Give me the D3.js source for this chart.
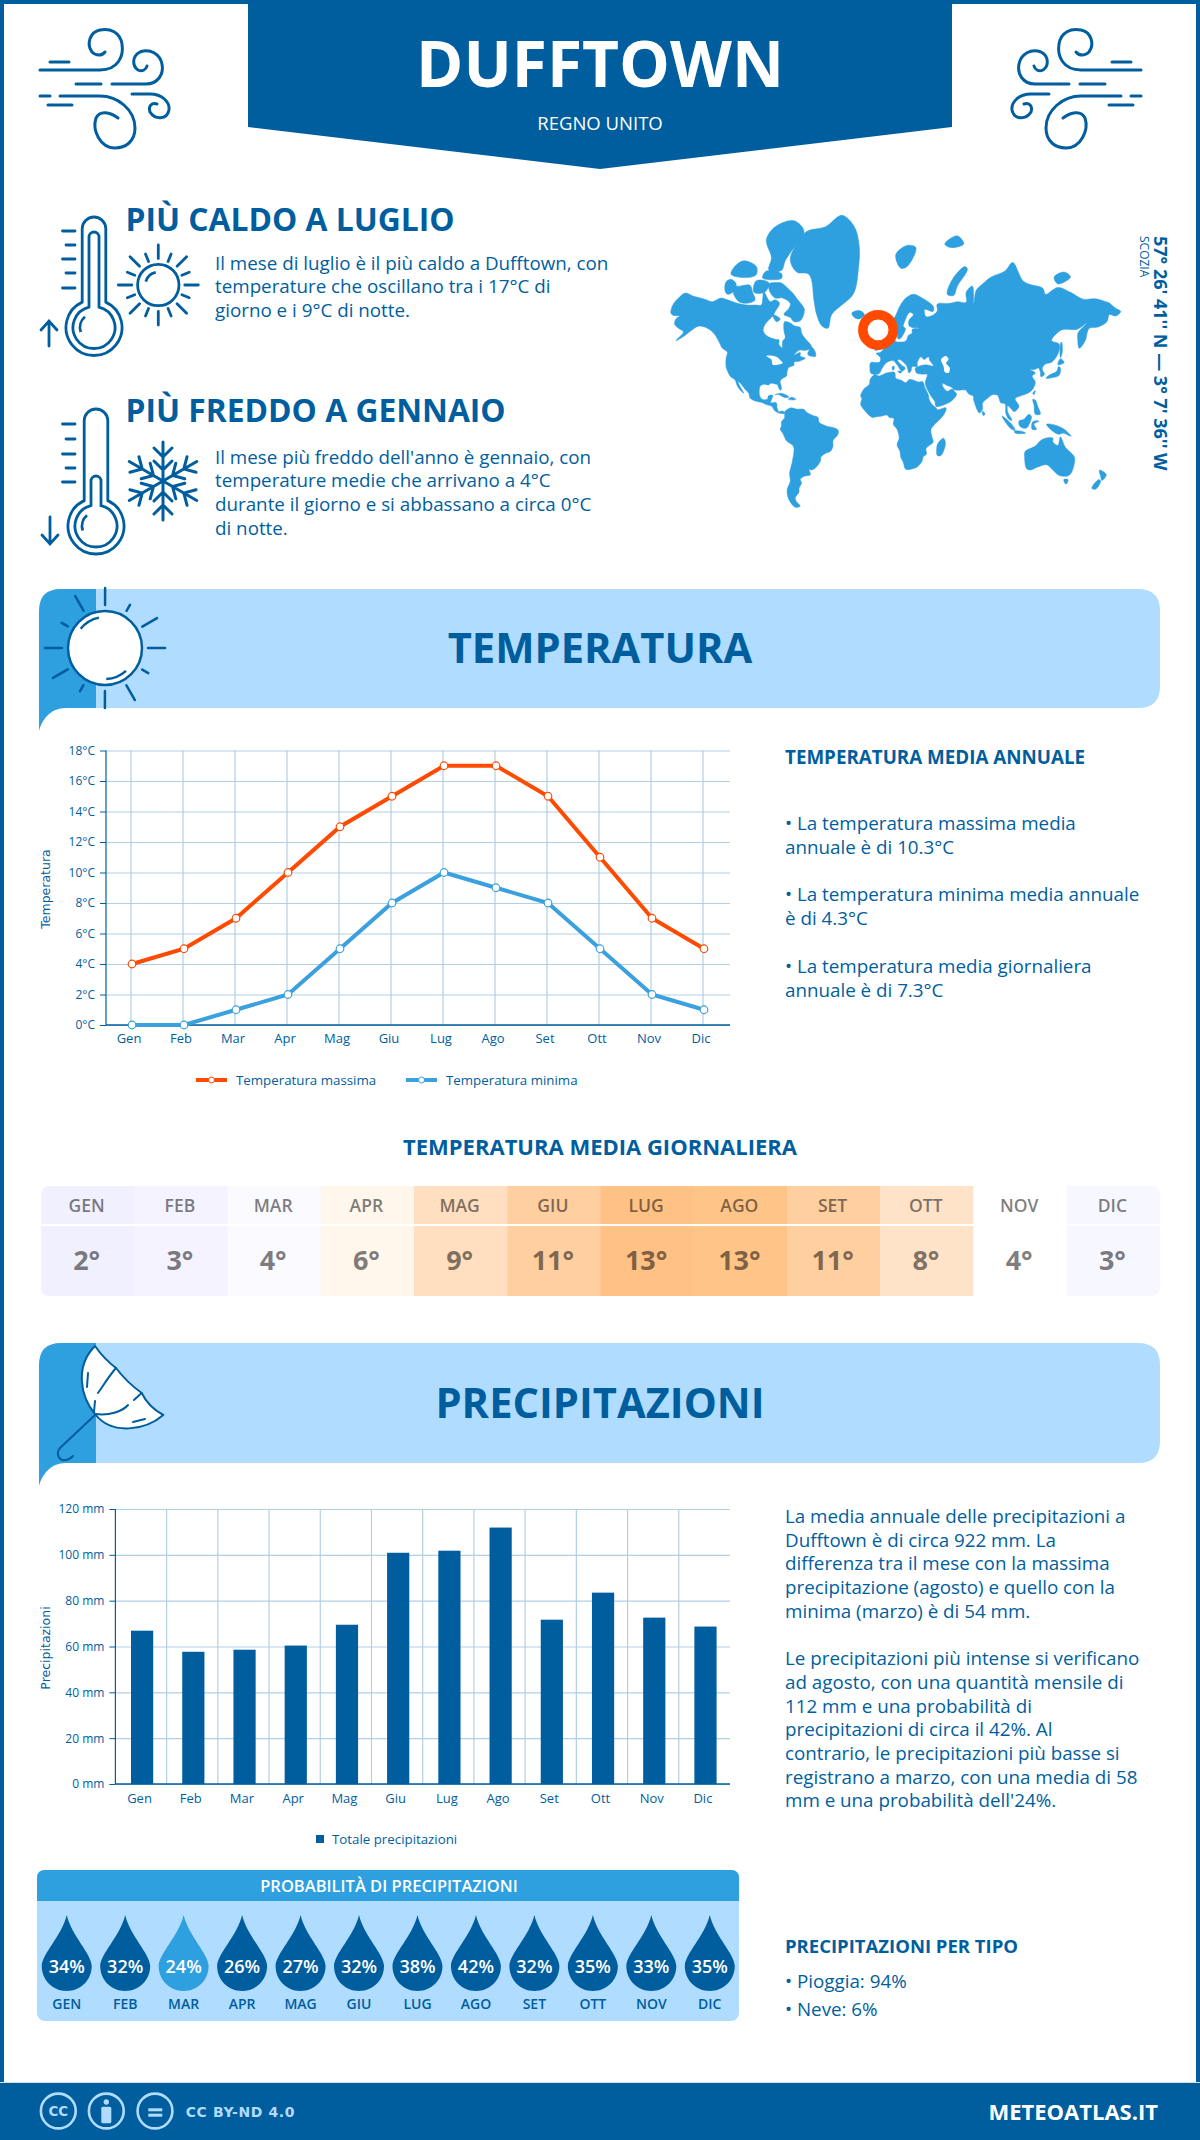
<!DOCTYPE html>
<html>
<head>
<meta charset="utf-8">
<script src="https://cdn.jsdelivr.net/npm/d3@7"></script>
<style>
  html, body { margin: 0; padding: 0; background: #fff; }
  svg { display: block; }
  text { font-family: "Open Sans", sans-serif; }
</style>
</head>
<body>
<div id="chart"></div>
<script>
const months = ["Gen", "Feb", "Mar", "Apr", "Mag", "Giu", "Lug", "Ago", "Set", "Ott", "Nov", "Dic"];
const tempMax = [4, 5, 7, 10, 13, 15, 17, 17, 15, 11, 7, 5];
const tempMin = [0, 0, 1, 2, 5, 8, 10, 9, 8, 5, 2, 1];
const tempTicks = [0, 2, 4, 6, 8, 10, 12, 14, 16, 18];
const tempAvg = [2, 3, 4, 6, 9, 11, 13, 13, 11, 8, 4, 3];
const tempAvgColors = ["#f1f0ff", "#f4f3ff", "#fbfaff", "#fff6ec", "#ffdfbf", "#ffcfa0", "#ffc184", "#ffc488", "#ffcfa0", "#ffe3c8", "#ffffff", "#f7f7ff"];
const rainTotal = [66.9, 57.7, 58.6, 60.4, 69.5, 100.9, 101.8, 111.9, 71.7, 83.5, 72.6, 68.7];
const rainTicks = [0, 20, 40, 60, 80, 100, 120];
const rainProb = [34, 32, 24, 26, 27, 32, 38, 42, 32, 35, 33, 35];

const hotText = ["Il mese di luglio è il più caldo a Dufftown, con", "temperature che oscillano tra i 17°C di", "giorno e i 9°C di notte."];
const coldText = ["Il mese più freddo dell'anno è gennaio, con", "temperature medie che arrivano a 4°C", "durante il giorno e si abbassano a circa 0°C", "di notte."];
const tempNotes = [
  ["• La temperatura massima media", "annuale è di 10.3°C"],
  ["• La temperatura minima media annuale", "è di 4.3°C"],
  ["• La temperatura media giornaliera", "annuale è di 7.3°C"]
];
const rainNotes = [
  ["La media annuale delle precipitazioni a", "Dufftown è di circa 922 mm. La", "differenza tra il mese con la massima", "precipitazione (agosto) e quello con la", "minima (marzo) è di 54 mm."],
  ["Le precipitazioni più intense si verificano", "ad agosto, con una quantità mensile di", "112 mm e una probabilità di", "precipitazioni di circa il 42%. Al", "contrario, le precipitazioni più basse si", "registrano a marzo, con una media di 58", "mm e una probabilità dell'24%."]
];
const rainTypes = ["• Pioggia: 94%", "• Neve: 6%"];

// land outlines, [lon, lat]
const land = [
  [[-168,65.5],[-166,68.3],[-161,70.3],[-156.5,71.3],[-150,70.5],[-141,69.7],[-135,69],[-128,70],[-123,69.5],[-115,68.5],[-108,68],[-100,68],[-96,68],[-94,71.5],[-89,69],[-85,69.5],[-81.5,68.5],[-85,66],[-87,64.5],[-93,61.5],[-94.5,59],[-92,57],[-85,55.3],[-82,55],[-82,52.9],[-79.5,51.3],[-79,54.5],[-77,56],[-78,59],[-77.5,62.5],[-73,62],[-70,61],[-65,60.3],[-64,58],[-61,55.5],[-57,53],[-56,51.5],[-60,50],[-66,50],[-70,47.5],[-65,48.8],[-65,47],[-61,45.8],[-66,44],[-70,43.5],[-70,41.7],[-74,40.5],[-75.5,38],[-76,35],[-79,33.5],[-81,31.5],[-80,27],[-80.5,25.2],[-82,26.5],[-83,29],[-85,29.7],[-89,30],[-90,29],[-94,29.5],[-97,28],[-97.7,24],[-97.5,22],[-96,19],[-94,18.2],[-91,18.7],[-90.5,21],[-87,21.5],[-88,18],[-88.7,16],[-84,15.8],[-83.5,12],[-82,9],[-79.5,9.5],[-77.5,8.5],[-78,7.5],[-80,7.5],[-83,8.3],[-85.7,10],[-87.5,13],[-92,14.5],[-95,16],[-100,17],[-105,19.5],[-106,23],[-109,26],[-112.5,30],[-114.7,31.7],[-113,28],[-110,23],[-112,24.5],[-115,28],[-117,32.5],[-120.5,34.5],[-122.5,37.5],[-124,40.5],[-124,46],[-123,49],[-127,51],[-130,54.5],[-134,58],[-139,60],[-146,60.8],[-152,59],[-158,56.5],[-164,54.7],[-158,58.5],[-162,60],[-165,61.5],[-164,63.5],[-161,64.5],[-166,64.7]],
  [[-73,78.2],[-68,80.5],[-60,82],[-45,82.5],[-32,83.6],[-22,82.5],[-18,80],[-19,76],[-21,72.5],[-24,70.5],[-32,68],[-40,65],[-43,60],[-48,61],[-52,65],[-54,69],[-58,75.5],[-68,76]],
  [[-90,73.5],[-85,73.8],[-80,73.7],[-76,72.8],[-71,71.3],[-67,69.5],[-62,67],[-62,65.5],[-65,62.8],[-70,62.5],[-73,64],[-78,65],[-74,67],[-73,68.5],[-79,70],[-85,70],[-89,71.5]],
  [[-118,71],[-113,68.8],[-105,68.7],[-101,69.5],[-103,71.5],[-105,73.2],[-113,73],[-118,72.8]],
  [[-125,72],[-123,71],[-118,71.8],[-116,73.5],[-120,74.5],[-124,74]],
  [[-90,76.4],[-80,76.3],[-77,78],[-72,79.5],[-62,82],[-70,83.1],[-85,82.5],[-92,81],[-88,78.5]],
  [[-95,74.8],[-80,74.7],[-80,75.7],[-92,76.2]],
  [[-120,75.5],[-106,74.9],[-100,75.5],[-100,77],[-110,78],[-118,76.8]],
  [[-102,71.5],[-93,71.6],[-90,73.8],[-100,74.2]],
  [[-59,47.7],[-53,46.7],[-53,49],[-56,51.5]],
  [[-87,65],[-81,63.5],[-84,62.5]],
  [[-85,22],[-80,23],[-74,20.2],[-77.5,19.9],[-82,22]],
  [[-74.4,18.5],[-72,20],[-68.5,18.5],[-71,18]],
  [[-77.5,8.5],[-75,11],[-72,12],[-68,11],[-62,10.7],[-60,8.5],[-55,6],[-51,4.5],[-50,0.5],[-44,-2.5],[-39,-3.5],[-35,-5.5],[-35,-9],[-39,-14],[-39,-18],[-41,-22],[-45,-23.5],[-48.5,-26],[-49,-29],[-53,-33.7],[-56,-35],[-58,-34.5],[-57,-38],[-62,-39],[-65,-41],[-64,-43],[-66,-46],[-66,-48],[-69,-51],[-68,-53],[-65,-55],[-69,-55.5],[-74,-52],[-75.5,-47],[-73,-42],[-73.5,-37],[-71.5,-30],[-70,-20],[-71,-17.5],[-76,-14],[-79,-8],[-81,-5],[-80,-2.5],[-80,1],[-77.5,4],[-77.5,7]],
  [[-6,35.8],[-2,35],[3,36.8],[10,37.3],[11,33.5],[15,32.3],[19,30.5],[22,32.8],[29,31],[32.5,31.2],[34,27.5],[37,21.5],[37.5,18.5],[39.5,15],[43,12],[44,10.5],[51,12],[50,8],[47,4],[41.5,-1.5],[39,-5],[39.5,-10],[40.7,-15],[35,-20],[35.5,-24],[32.8,-26],[32,-29],[28,-33],[25,-34],[20,-34.8],[18.3,-34],[17,-30],[15,-26.5],[14.3,-22],[12,-17],[13.7,-12],[13,-8],[12,-5],[9,-1],[9.5,3.5],[6,4.3],[4,6.3],[-1,5.3],[-4.5,5],[-7.5,4.4],[-11,6.8],[-13.5,9.5],[-17,14.7],[-16,19],[-17,21],[-14.5,26],[-10,29.5],[-9.5,32.5]],
  [[-9,37],[-9.5,39],[-9,43.2],[-2,43.5],[-1.2,46],[-4.5,48.4],[-1.5,48.8],[2,51],[4,52],[7,53.5],[8.5,54],[8.2,57],[10.5,57.7],[10.5,54.5],[14,54],[19,54.5],[21,57],[24,58],[24,59.5],[30,60],[25,60.2],[21.5,61],[21.5,63],[25,65],[22,65.7],[18,62.5],[17,60.8],[18.7,59.8],[16.5,57],[14.3,55.5],[12.8,55.5],[11.5,58],[8.5,58],[5.5,59],[5,62],[10,64],[14,67.5],[19,70],[25,71],[31,70.2],[41,67.5],[40.5,66],[34,66.7],[35,64.3],[40,64.7],[44,66.2],[44,68.3],[54,68.5],[60,69],[67,68.8],[67,71.5],[72,73],[73,68.5],[75,72],[80,73.5],[87,75],[98,76.2],[104,77.7],[113,74],[128,72.5],[130,71],[140,72.7],[150,71.5],[160,69.7],[170,69.8],[178,69],[180,68.8],[186,67],[190,66],[186,64.5],[181,65],[179,62.5],[172,60.5],[165,60],[163,57.5],[162,55],[157,51],[155.7,56],[156,58],[163,62],[155,59.5],[143,59.3],[135,54.7],[141,53],[140,48],[135,43.5],[130,42.5],[127.5,39.5],[129.3,36],[126.5,34.5],[126,37.5],[124.5,40],[121,39],[118,39],[122,37],[119.5,35],[122,31],[120,26],[116,23],[110,21],[106,19],[109,13],[105,9],[103,11],[100,13.5],[100,9],[103.5,2],[101,3],[98.5,8],[98,15],[94.5,16],[92,21.5],[88,22],[85,20],[80,15.5],[80,11],[77.5,8],[73,18],[72.5,21],[69,22.5],[66.5,25.3],[61,25.2],[57,25.7],[56,27],[51,29],[48,30],[49,27],[52,24.5],[56,26],[58.5,23.5],[59.5,22.5],[55,17],[45,13],[43,13],[42,17],[39,21],[35,28],[34.5,31],[36,36],[32,36.2],[27.5,37],[26.5,40],[29,41],[35,42],[41,41.3],[38,44.5],[37,46.5],[33.5,45],[31,46.5],[28,43],[28,41],[24,40.8],[23,38],[21.5,37],[19.5,41.5],[14,45],[12.5,44.5],[16,41.5],[18.5,40],[16,38],[12,42],[8.8,44.4],[3.5,43.2],[0,39.7],[-2,36.8],[-5.5,36]],
  [[-5.5,50],[1,51.2],[1.5,52.7],[-2,55.8],[-2,57.6],[-5,58.6],[-6,56],[-3,54],[-5,52]],
  [[-10,52],[-6,52],[-6,55],[-9,54.5]],
  [[-24,65.5],[-18,66.3],[-14,65],[-18,63.5],[-22,64]],
  [[11,79],[20,80.3],[27,80],[20,77],[15,76.7]],
  [[52,71],[57,70.7],[60,73],[68,76.5],[66,77],[56,74.5]],
  [[50,80.5],[60,81.5],[65,80.5],[55,80]],
  [[137,75],[145,76],[150,75],[140,73.5]],
  [[130.5,33.5],[136,34],[141,35.5],[142,40],[140.5,41],[139,38],[133,35.5]],
  [[140,42],[145,43.3],[142,45.5]],
  [[142,46],[143.5,49],[143,54],[142,53]],
  [[120,23],[121,22],[122,25]],
  [[120,18.5],[122,18],[124,13],[126,7],[122,7],[121,14]],
  [[109,1.5],[113,3],[117,7],[119,5],[117.5,0],[115,-4],[110,-3]],
  [[95.5,5.5],[98,4],[104,-2],[106,-6],[102,-4]],
  [[105.5,-6.5],[111,-6.5],[114.5,-8],[106,-8]],
  [[119.5,-5],[120,1],[125,1.5],[121,-1],[123,-5]],
  [[131,-1],[138,-1.7],[145,-5],[150.5,-10.5],[144,-8],[141,-9],[138,-8],[133,-4]],
  [[114,-22],[122,-18],[126,-14],[130,-12],[136,-12],[136,-15],[140,-17.5],[142,-11],[146,-19],[153,-26],[153,-31],[150,-37.5],[146,-39],[140,-38],[136,-35],[131,-31.5],[124,-33],[118,-35],[115,-34],[113.5,-26]],
  [[144.7,-41],[148,-41],[147,-43.5],[146,-43.5]],
  [[173,-35],[178.5,-38],[175,-41.5],[174,-39]],
  [[172.5,-41],[174,-42],[170,-46.5],[167,-46]],
  [[49,-12],[50.5,-16],[47,-25],[44,-25],[43.5,-21],[44.5,-16]],
  [[80,9.5],[82,7],[80.5,6]],
  [[12.5,38],[15.5,38],[15,36.8]],
  [[8.3,41],[9.7,41],[9.5,39],[8.4,39]]
];
const lakes = [
  [[47,45],[51,47],[53,45],[51,43],[54,40],[53,37],[50,37.5],[49,41]],
  [[-92,47],[-84,46.5],[-80,44],[-79,43],[-83,42],[-87,42],[-88,45]]
];
const place = [-3.127, 59.3]; // where the ring sits on this map

const dark = "#005e9e", mid = "#2e9fdf", light = "#b0dcff", orange = "#ff4a00", grid = "#b2cfe4";

const svg = d3.select("#chart").append("svg").attr("width", 1200).attr("height", 2140);

function label(parent, x, y, str, size, weight, fill, anchor) {
  return parent.append("text")
    .attr("x", x).attr("y", y).attr("dy", ".35em")
    .attr("font-size", size).attr("font-weight", weight || 400)
    .attr("fill", fill || dark).attr("text-anchor", anchor || "start")
    .text(str);
}

// frame and header
svg.append("rect").attr("width", 1200).attr("height", 2140).attr("fill", "none").attr("stroke", dark).attr("stroke-width", 8);
svg.append("path").attr("d", "M248,0H952V127L600,169L248,127Z").attr("fill", dark);
label(svg, 600, 65, "DUFFTOWN", 64, 700, "#fff", "middle");
label(svg, 600, 124, "REGNO UNITO", 18.5, 400, "#fff", "middle");

function wind(g) {
  g.attr("fill", "none").attr("stroke", dark).attr("stroke-width", 3).attr("stroke-linecap", "round");
  ["M40,70H100C118,70 124,56 122,44C120,32 110,28 100,30C90,32 86,44 92,52C96,56 102,56 105,52",
   "M112,84H146C158,84 164,74 162,64C160,54 150,48 140,52C132,56 132,66 138,70C142,72 146,70 147,66",
   "M50,62H69", "M76,84H101", "M40,96H50", "M60,96H100C118,96 135,110 135,128C135,142 125,148 115,148C100,148 92,130 96,118C100,110 110,112 118,118",
   "M132,94H150C162,94 170,102 169,110C167,120 155,120 150,112C148,106 152,102 157,104", "M48,105H72"
  ].forEach(d => g.append("path").attr("d", d));
}
wind(svg.append("g"));
wind(svg.append("g").attr("transform", "translate(1181,0) scale(-1,1)"));

// thermometers
function thermo(x, top, bulbY, innerTop, ticksY, arrowX, arrowFrom, arrowTo) {
  const g = svg.append("g").attr("fill", "none").attr("stroke", dark).attr("stroke-width", 2.8).attr("stroke-linecap", "round");
  const outer = 28, inner = 21, half = 11.8, innerHalf = 5;
  const oy = bulbY - Math.sqrt(outer * outer - half * half), iy = bulbY - Math.sqrt(inner * inner - innerHalf * innerHalf);
  g.append("path").attr("d", `M${x - half},${oy}V${top + half}A${half},${half} 0 0 1 ${x + half},${top + half}V${oy}A${outer},${outer} 0 1 1 ${x - half},${oy}`);
  g.append("path").attr("d", `M${x - innerHalf},${iy}V${innerTop + innerHalf}A${innerHalf},${innerHalf} 0 0 1 ${x + innerHalf},${innerTop + innerHalf}V${iy}A${inner},${inner} 0 1 1 ${x - innerHalf},${iy}`);
  g.append("path").attr("d", d3.arc()({innerRadius: 14, outerRadius: 14, startAngle: -1.9, endAngle: -0.7})).attr("transform", `translate(${x},${bulbY})`);
  ticksY.forEach((t, i) => g.append("line").attr("x1", i % 2 ? 66 : 62.5).attr("x2", 75).attr("y1", t).attr("y2", t));
  const dir = arrowTo < arrowFrom ? 1 : -1;
  g.append("path").attr("d", `M${arrowX},${arrowFrom}V${arrowTo}M${arrowX - 8},${arrowTo + dir * 9}L${arrowX},${arrowTo}L${arrowX + 8},${arrowTo + dir * 9}`);
}
thermo(94, 217, 327.5, 232, [231, 245, 259, 273, 288], 49, 346, 321);
thermo(96, 409, 526, 476, [424, 439, 454, 468, 482], 50, 517, 544);

// small sun
const sun = svg.append("g").attr("transform", "translate(158.3,285)").attr("fill", "none").attr("stroke", dark).attr("stroke-width", 2.8).attr("stroke-linecap", "round");
sun.append("circle").attr("r", 20.7);
sun.append("path").attr("d", d3.arc()({innerRadius: 13, outerRadius: 13, startAngle: -1.3, endAngle: -0.2}));
d3.range(16).forEach(i => {
  const a = i * Math.PI / 8, r0 = i % 2 ? 25.5 : 26.5, r1 = i % 2 ? 33.5 : 40;
  sun.append("line").attr("x1", r0 * Math.sin(a)).attr("y1", -r0 * Math.cos(a)).attr("x2", r1 * Math.sin(a)).attr("y2", -r1 * Math.cos(a));
});

// snowflake
const flake = svg.append("g").attr("transform", "translate(163,481)").attr("fill", "none").attr("stroke", dark).attr("stroke-width", 3).attr("stroke-linecap", "round");
d3.range(6).forEach(i => {
  const arm = flake.append("g").attr("transform", `rotate(${i * 60})`);
  arm.append("path").attr("d", "M0,0V-39M-9,-20L0,-11L9,-20M-9,-33L0,-24L9,-33");
});

// map
const projection = d3.geoMercator().rotate([-11, 0]).scale(72).translate([895.8, 423]);
const landPath = d3.line().x(d => projection(d)[0]).y(d => projection(d)[1]).curve(d3.curveCatmullRomClosed.alpha(0.5));
svg.append("g").selectAll("path").data(land).join("path").attr("d", landPath).attr("fill", mid).attr("stroke", mid).attr("stroke-width", 0.5);
svg.append("g").selectAll("path").data(lakes).join("path").attr("d", landPath).attr("fill", "#fff");
svg.append("circle").attr("cx", projection(place)[0]).attr("cy", projection(place)[1]).attr("r", 15.2).attr("fill", "#fff").attr("stroke", orange).attr("stroke-width", 9.5);

svg.append("text").attr("transform", "translate(1154,236) rotate(90)").attr("font-size", 18).attr("font-weight", 700).attr("fill", dark).text("57° 26' 41'' N — 3° 7' 36'' W");
svg.append("text").attr("transform", "translate(1140,236) rotate(90)").attr("font-size", 12).attr("fill", dark).text("SCOZIA");

// intro text
label(svg, 125.5, 220, "PIÙ CALDO A LUGLIO", 31.8, 700);
hotText.forEach((t, i) => label(svg, 215, 263 + i * 23.7, t, 18.8));
label(svg, 125.5, 411, "PIÙ FREDDO A GENNAIO", 31.8, 700);
coldText.forEach((t, i) => label(svg, 215, 457 + i * 23.7, t, 18.8));

// section bands
function band(y0, y1, title) {
  svg.append("path").attr("d", `M96,${y0}H1138Q1160,${y0} 1160,${y0 + 22}V${y1 - 22}Q1160,${y1} 1138,${y1}H96Z`).attr("fill", light);
  svg.append("path").attr("d", `M39,${y1 + 23}V${y0 + 22}Q39,${y0} 61,${y0}H96V${y1}H66C50,${y1} 42,${y1 + 12} 39,${y1 + 23}Z`).attr("fill", mid);
  label(svg, 600, (y0 + y1) / 2, title, 41.7, 700, dark, "middle");
}
band(589, 708, "TEMPERATURA");
band(1343, 1463, "PRECIPITAZIONI");

// big sun on the temperature band
const ball = svg.append("g").attr("transform", "translate(105,648)").attr("fill", "none").attr("stroke", dark).attr("stroke-width", 2.5).attr("stroke-linecap", "round");
ball.append("circle").attr("r", 37).attr("fill", "#fff");
ball.append("path").attr("d", d3.arc()({innerRadius: 31, outerRadius: 31, startAngle: -0.9, endAngle: -0.2}));
ball.append("path").attr("d", d3.arc()({innerRadius: 31, outerRadius: 31, startAngle: 2.4, endAngle: 3.1}));
d3.range(12).forEach(i => {
  const a = (i * 30 + 15) * Math.PI / 180 - 0.26, r0 = 43, r1 = i % 3 === 1 ? 50 : 60;
  ball.append("line").attr("x1", r0 * Math.sin(a)).attr("y1", -r0 * Math.cos(a)).attr("x2", r1 * Math.sin(a)).attr("y2", -r1 * Math.cos(a));
});

// umbrella on the rain band
const umb = svg.append("g").attr("fill", "none").attr("stroke", dark).attr("stroke-width", 2).attr("stroke-linecap", "round").attr("stroke-linejoin", "round");
umb.append("path").attr("d", "M95,1346C102,1356 108,1362 116,1368C122,1376 132,1386 141.7,1393C146,1402 154,1410 163.3,1415C146,1430 112,1436 95,1414C80,1396 75,1366 95,1346Z").attr("fill", "#fff");
umb.append("path").attr("d", "M95,1414C110,1416 123,1411 128,1405M134,1400L141.7,1393M116,1368C109,1376 103,1386 98,1393M95,1401L94,1412M88,1373L87,1387M133,1422L145,1419M95,1415L60,1448C55,1455 60,1461 65,1460C68,1460 71,1458 73,1456");

// temperature chart
const tx = d3.scaleBand().domain(months).range([106, 730]);
const ty = d3.scaleLinear().domain([0, 18]).range([1025, 750.5]);
const tempChart = svg.append("g");

function yGrid(g, scale, ticks, fmt, left, right) {
  g.append("g").attr("transform", `translate(${left},0)`)
    .call(d3.axisLeft(scale).tickValues(ticks).tickSize(left - right).tickFormat(""))
    .call(a => a.selectAll("line").attr("stroke", grid).attr("stroke-width", 1.2))
    .call(a => a.select(".domain").remove());
  g.append("g").attr("transform", `translate(${left},0)`)
    .call(d3.axisLeft(scale).tickValues(ticks).tickSize(6).tickPadding(5).tickFormat(fmt))
    .call(a => a.selectAll("line").attr("stroke", dark))
    .call(a => a.select(".domain").attr("stroke", dark).attr("stroke-width", 1.2).attr("d", `M0,${scale.range()[0]}V${scale.range()[1]}`))
    .call(a => a.selectAll("text").attr("fill", dark).attr("font-size", 12).attr("font-family", "Open Sans"));
}
yGrid(tempChart, ty, tempTicks, d => d + "°C", 106, 730);

tempChart.append("g").attr("transform", "translate(0,1025)")
  .call(d3.axisBottom(tx).tickSize(274.5).tickSizeOuter(0).tickFormat(""))
  .call(a => a.select(".domain").remove())
  .call(a => a.selectAll("line").attr("stroke", grid).attr("stroke-width", 1.2).attr("transform", "translate(-1,0) scale(1,-1)"));
tempChart.append("line").attr("x1", 106).attr("x2", 730).attr("y1", 1025).attr("y2", 1025).attr("stroke", dark).attr("stroke-width", 1.5);
tempChart.append("g").attr("transform", "translate(-3,1025)")
  .call(d3.axisBottom(tx).tickSize(0).tickPadding(9))
  .call(a => a.select(".domain").remove())
  .call(a => a.selectAll("text").attr("fill", dark).attr("font-size", 13).attr("font-family", "Open Sans"));

const tempLine = d3.line().x((d, i) => tx(months[i]) + tx.bandwidth() / 2).y(d => ty(d));
[[tempMax, orange], [tempMin, "#3aa0de"]].forEach(([vals, col]) => {
  tempChart.append("path").attr("d", tempLine(vals)).attr("fill", "none").attr("stroke", col).attr("stroke-width", 4);
  tempChart.append("g").selectAll("circle").data(vals).join("circle")
    .attr("cx", (d, i) => tx(months[i]) + tx.bandwidth() / 2)
    .attr("cy", d => ty(d)).attr("r", 3.8)
    .attr("fill", "#fff").attr("stroke", col).attr("stroke-width", 1.2);
});

function axisTitle(str, y) {
  svg.append("text").attr("transform", `translate(50,${y}) rotate(-90)`)
    .attr("text-anchor", "middle").attr("font-size", 12.5).attr("fill", dark)
    .style("font-family", "DejaVu Sans").text(str);
}
axisTitle("Temperatura", 889);
axisTitle("Precipitazioni", 1648);

[[196, orange, "Temperatura massima"], [406, "#3aa0de", "Temperatura minima"]].forEach(([x, col, name]) => {
  svg.append("line").attr("x1", x).attr("x2", x + 31).attr("y1", 1080).attr("y2", 1080).attr("stroke", col).attr("stroke-width", 4);
  svg.append("circle").attr("cx", x + 15.5).attr("cy", 1080).attr("r", 3).attr("fill", "#fff").attr("stroke", col);
  label(svg, x + 40, 1080, name, 13.3);
});

// notes beside the temperature chart
label(svg, 785, 757, "TEMPERATURA MEDIA ANNUALE", 18.8, 700);
tempNotes.forEach((lines, i) => lines.forEach((t, j) => label(svg, 785, 823 + i * 71.5 + j * 24, t, 18.8)));

// daily mean table
label(svg, 600, 1147, "TEMPERATURA MEDIA GIORNALIERA", 22, 700, dark, "middle");
const hx = d3.scaleBand().domain(months).range([41, 1160]);
svg.append("clipPath").attr("id", "tableClip").append("rect").attr("x", 41).attr("y", 1186).attr("width", 1119).attr("height", 110).attr("rx", 8);
const table = svg.append("g").attr("clip-path", "url(#tableClip)");
table.selectAll("rect").data(months).join("rect")
  .attr("x", d => hx(d)).attr("y", 1186)
  .attr("width", hx.bandwidth() + 0.5).attr("height", 110)
  .attr("fill", (d, i) => tempAvgColors[i]);
table.append("line").attr("x1", 41).attr("x2", 1160).attr("y1", 1225).attr("y2", 1225).attr("stroke", "#fff").attr("stroke-width", 2);
months.forEach((m, i) => {
  const cx = hx(m) + hx.bandwidth() / 2 - 1;
  label(table, cx, 1206, m.toUpperCase(), 17.5, 600, "#000", "middle").attr("opacity", 0.5);
  label(table, cx, 1261, tempAvg[i] + "°", 27, 700, "#000", "middle").attr("opacity", 0.5);
});

// rain chart
const rx = d3.scaleBand().domain(months).range([115.4, 730]);
const ry = d3.scaleLinear().domain([0, 120]).range([1784, 1509]);
const rainChart = svg.append("g");
yGrid(rainChart, ry, rainTicks, d => d + " mm", 115.4, 730);
rainChart.append("g").selectAll("line").data(months.slice(1)).join("line")
  .attr("x1", d => rx(d)).attr("x2", d => rx(d)).attr("y1", 1509).attr("y2", 1784)
  .attr("stroke", grid).attr("stroke-width", 1.2);
rainChart.append("g").selectAll("rect").data(rainTotal).join("rect")
  .attr("x", (d, i) => rx(months[i]) + rx.bandwidth() / 2 - 10)
  .attr("width", 22.2)
  .attr("y", d => ry(d))
  .attr("height", d => ry(0) - ry(d))
  .attr("fill", dark);
rainChart.append("line").attr("x1", 115.4).attr("x2", 730).attr("y1", 1784).attr("y2", 1784).attr("stroke", dark).attr("stroke-width", 1.5);
rainChart.append("g").attr("transform", "translate(-1.5,1784)")
  .call(d3.axisBottom(rx).tickSize(0).tickPadding(10))
  .call(a => a.select(".domain").remove())
  .call(a => a.selectAll("text").attr("fill", dark).attr("font-size", 13).attr("font-family", "Open Sans"));
svg.append("rect").attr("x", 316).attr("y", 1835).attr("width", 8).attr("height", 8).attr("fill", dark);
label(svg, 332, 1839, "Totale precipitazioni", 13.3);

// notes beside the rain chart
let noteY = 1516.5;
rainNotes.forEach(par => {
  par.forEach(t => { label(svg, 785, noteY, t, 18.8); noteY += 23.7; });
  noteY += 23.7;
});

// rain probability panel
svg.append("rect").attr("x", 37).attr("y", 1870).attr("width", 702).attr("height", 151).attr("rx", 8).attr("fill", light);
svg.append("path").attr("d", "M37,1901V1878Q37,1870 45,1870H731Q739,1870 739,1878V1901Z").attr("fill", mid);
label(svg, 389, 1886, "PROBABILITÀ DI PRECIPITAZIONI", 16.5, 600, "#fff", "middle");
const px = d3.scaleBand().domain(months).range([37.5, 739]);
const drop = "M0,-51C5,-30 25,-12 25,0C25,14 14,25 0,25C-14,25 -25,14 -25,0C-25,-12 -5,-30 0,-51Z";
const lowest = d3.min(rainProb);
months.forEach((m, i) => {
  const cx = px(m) + px.bandwidth() / 2;
  svg.append("path").attr("d", drop).attr("transform", `translate(${cx},1966)`).attr("fill", rainProb[i] === lowest ? mid : dark);
  label(svg, cx, 1967, rainProb[i] + "%", 18, 600, "#fff", "middle");
  label(svg, cx, 2004, m.toUpperCase(), 14, 600, dark, "middle");
});

label(svg, 785, 1947, "PRECIPITAZIONI PER TIPO", 18.5, 700);
rainTypes.forEach((t, i) => label(svg, 785, 1981 + i * 28, t, 18.8));

// footer
svg.append("rect").attr("y", 2082).attr("width", 1200).attr("height", 1).attr("fill", "#ddd");
svg.append("rect").attr("y", 2083).attr("width", 1200).attr("height", 57).attr("fill", dark);
[58.3, 106.3, 155].forEach(cx => svg.append("circle").attr("cx", cx).attr("cy", 2111).attr("r", 17.4).attr("fill", "none").attr("stroke", light).attr("stroke-width", 2.6));
label(svg, 58.3, 2111, "CC", 13.5, 700, light, "middle").style("font-family", "DejaVu Sans");
svg.append("circle").attr("cx", 106.3).attr("cy", 2102).attr("r", 2.7).attr("fill", light);
svg.append("rect").attr("x", 101.3).attr("y", 2106.7).attr("width", 10).attr("height", 16.5).attr("rx", 1.5).attr("fill", light);
svg.append("rect").attr("x", 148.3).attr("y", 2108.3).attr("width", 14).attr("height", 3).attr("fill", light);
svg.append("rect").attr("x", 148.3).attr("y", 2113.7).attr("width", 14).attr("height", 3).attr("fill", light);
label(svg, 185.7, 2112, "CC BY-ND 4.0", 14, 700, light).attr("letter-spacing", 0.6).style("font-family", "DejaVu Sans");
label(svg, 1158, 2112, "METEOATLAS.IT", 22, 700, "#fff", "end");
</script>
</body>
</html>
